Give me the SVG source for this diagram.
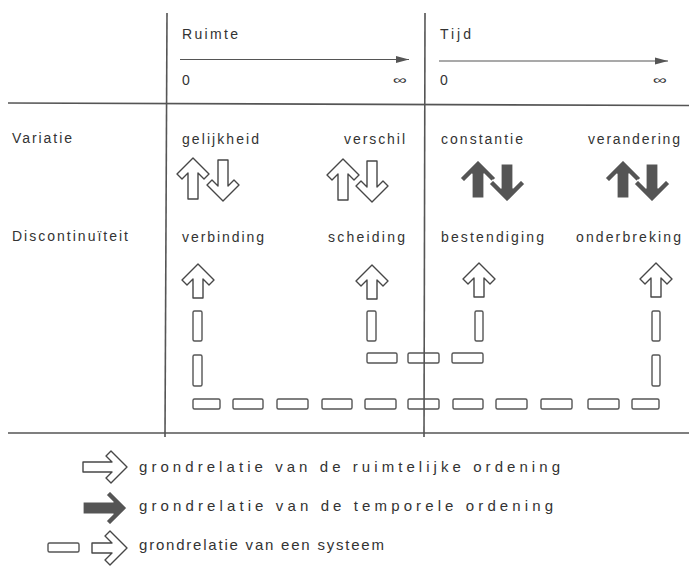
<svg xmlns="http://www.w3.org/2000/svg" xmlns:xlink="http://www.w3.org/1999/xlink" width="689" height="567" viewBox="0 0 689 567">
<style>
text{font-family:"Liberation Sans","DejaVu Sans",Arial,sans-serif;font-size:14px;fill:#333;}
.leg{font-size:15px;}
.inf{font-size:12px;}
.rule{stroke:#555;stroke-width:1.6;fill:none;}
.axis{stroke:#555;stroke-width:1.2;fill:none;}
.ol{fill:#fff;stroke:#474747;stroke-width:1.4;stroke-linejoin:round;}
.fl{fill:#555;stroke:#fff;stroke-width:1.2;stroke-linejoin:round;}
.seg{fill:none;stroke:#555;stroke-width:1.4;}
</style>
<defs>
<marker id="ah" markerWidth="14" markerHeight="8" refX="13" refY="4" orient="auto" markerUnits="userSpaceOnUse">
<path d="M0,0.5 L13,4 L0,7.5 Z" fill="#555"/>
</marker>
<path id="upTall" d="M0,0 L16,16 L11,21 L5,15 L5,41 L-5,41 L-5,15 L-11,21 L-16,16 Z"/>
<path id="upShort" d="M0,0 L16,16 L11,21 L5,15 L5,34 L-5,34 L-5,15 L-11,21 L-16,16 Z"/>
<path id="upFill" d="M0,0 L18,18 L14,22 L6,14 L6,38 L-6,38 L-6,14 L-14,22 L-18,18 Z"/>
<path id="legOut" d="M0,0 L16,16 L11,21 L5,15 L5,44 L-5,44 L-5,15 L-11,21 L-16,16 Z"/>
<path id="legFill" d="M0,0 L17,17 L13,21 L6,14 L6,44 L-6,44 L-6,14 L-13,21 L-17,17 Z"/>
<path id="legShort" d="M0,0 L17,17 L12,22 L5,15 L5,35 L-5,35 L-5,15 L-12,22 L-17,17 Z"/>
</defs>

<g id="table">
<line class="rule" x1="8" y1="103" x2="689" y2="105.5"/>
<line class="rule" x1="8" y1="433" x2="689" y2="433"/>
<line class="rule" x1="167" y1="13" x2="165" y2="437"/>
<line class="rule" x1="425" y1="13" x2="424" y2="437"/>
</g>

<g id="header-ruimte">
<text x="182" y="39" textLength="56" lengthAdjust="spacing">Ruimte</text>
<line class="axis" x1="180" y1="59.5" x2="409" y2="59.5" marker-end="url(#ah)"/>
<text x="182" y="85">0</text>
<text class="inf" x="393" y="84" textLength="14" lengthAdjust="spacingAndGlyphs">∞</text>
</g>

<g id="header-tijd">
<text x="440" y="39" textLength="31" lengthAdjust="spacing">Tijd</text>
<line class="axis" x1="439" y1="61" x2="668" y2="61" marker-end="url(#ah)"/>
<text x="440" y="85">0</text>
<text class="inf" x="653" y="84" textLength="14" lengthAdjust="spacingAndGlyphs">∞</text>
</g>

<g id="row-variatie"><text x="12" y="143" textLength="60" lengthAdjust="spacing">Variatie</text></g>
<g id="row-discontinuiteit"><text x="12" y="241" textLength="116" lengthAdjust="spacing">Discontinuïteit</text></g>

<g id="gelijkheid">
<text x="182" y="144" textLength="77" lengthAdjust="spacing">gelijkheid</text>
<use xlink:href="#upTall" class="ol" transform="translate(193,158)"/>
<use xlink:href="#upTall" class="ol" transform="translate(223,201) rotate(180)"/>
</g>
<g id="verschil">
<text x="344" y="144" textLength="61" lengthAdjust="spacing">verschil</text>
<use xlink:href="#upTall" class="ol" transform="translate(343,159)"/>
<use xlink:href="#upTall" class="ol" transform="translate(372,202) rotate(180)"/>
</g>
<g id="constantie">
<text x="441" y="144" textLength="82" lengthAdjust="spacing">constantie</text>
<use xlink:href="#upFill" class="fl" transform="translate(478,160)"/>
<use xlink:href="#upFill" class="fl" transform="translate(507,202) rotate(180)"/>
</g>
<g id="verandering">
<text x="588" y="144" textLength="92" lengthAdjust="spacing">verandering</text>
<use xlink:href="#upFill" class="fl" transform="translate(623,160)"/>
<use xlink:href="#upFill" class="fl" transform="translate(652,202) rotate(180)"/>
</g>

<g id="verbinding">
<text x="182" y="242" textLength="82" lengthAdjust="spacing">verbinding</text>
<use xlink:href="#upShort" class="ol" transform="translate(198,264)"/>
</g>
<g id="scheiding">
<text x="328" y="242" textLength="77" lengthAdjust="spacing">scheiding</text>
<use xlink:href="#upShort" class="ol" transform="translate(372,265)"/>
</g>
<g id="bestendiging">
<text x="441" y="242" textLength="103" lengthAdjust="spacing">bestendiging</text>
<use xlink:href="#upShort" class="ol" transform="translate(479,263)"/>
</g>
<g id="onderbreking">
<text x="576" y="242" textLength="105" lengthAdjust="spacing">onderbreking</text>
<use xlink:href="#upShort" class="ol" transform="translate(656,263)"/>
</g>

<g id="connectors">
<rect class="seg" x="193" y="311" width="9" height="30" rx="1.5"/>
<rect class="seg" x="193" y="355" width="9" height="31" rx="1.5"/>
<rect class="seg" x="367" y="311" width="9" height="30" rx="1.5"/>
<rect class="seg" x="475" y="311" width="8" height="30" rx="1.5"/>
<rect class="seg" x="652" y="311" width="8" height="30" rx="1.5"/>
<rect class="seg" x="652" y="355" width="8" height="31" rx="1.5"/>
<rect class="seg" x="367" y="353" width="30" height="10" rx="1.5"/>
<rect class="seg" x="408" y="353" width="31" height="10" rx="1.5"/>
<rect class="seg" x="452" y="353" width="31" height="10" rx="1.5"/>
<rect class="seg" x="193" y="399" width="27" height="10" rx="1.5"/>
<rect class="seg" x="233" y="399" width="30" height="10" rx="1.5"/>
<rect class="seg" x="277" y="399" width="31" height="10" rx="1.5"/>
<rect class="seg" x="322" y="399" width="30" height="10" rx="1.5"/>
<rect class="seg" x="365" y="399" width="31" height="10" rx="1.5"/>
<rect class="seg" x="408" y="399" width="31" height="10" rx="1.5"/>
<rect class="seg" x="453" y="399" width="30" height="10" rx="1.5"/>
<rect class="seg" x="496" y="399" width="31" height="10" rx="1.5"/>
<rect class="seg" x="541" y="399" width="31" height="10" rx="1.5"/>
<rect class="seg" x="588" y="399" width="31" height="10" rx="1.5"/>
<rect class="seg" x="632" y="399" width="27" height="10" rx="1.5"/>
</g>

<g id="legend-ruimtelijk">
<use xlink:href="#legOut" class="ol" transform="translate(127,467) rotate(90)"/>
<text class="leg" x="139" y="472" textLength="421" lengthAdjust="spacing">grondrelatie van de ruimtelijke ordening</text>
</g>
<g id="legend-temporeel">
<use xlink:href="#legFill" class="fl" transform="translate(127,508) rotate(90)"/>
<text class="leg" x="139" y="511" textLength="414" lengthAdjust="spacing">grondrelatie van de temporele ordening</text>
</g>
<g id="legend-systeem">
<rect class="seg" x="48" y="543" width="31" height="9" rx="1.5"/>
<use xlink:href="#legShort" class="ol" transform="translate(127,548) rotate(90)"/>
<text class="leg" x="139" y="550" textLength="245" lengthAdjust="spacing">grondrelatie van een systeem</text>
</g>
</svg>
